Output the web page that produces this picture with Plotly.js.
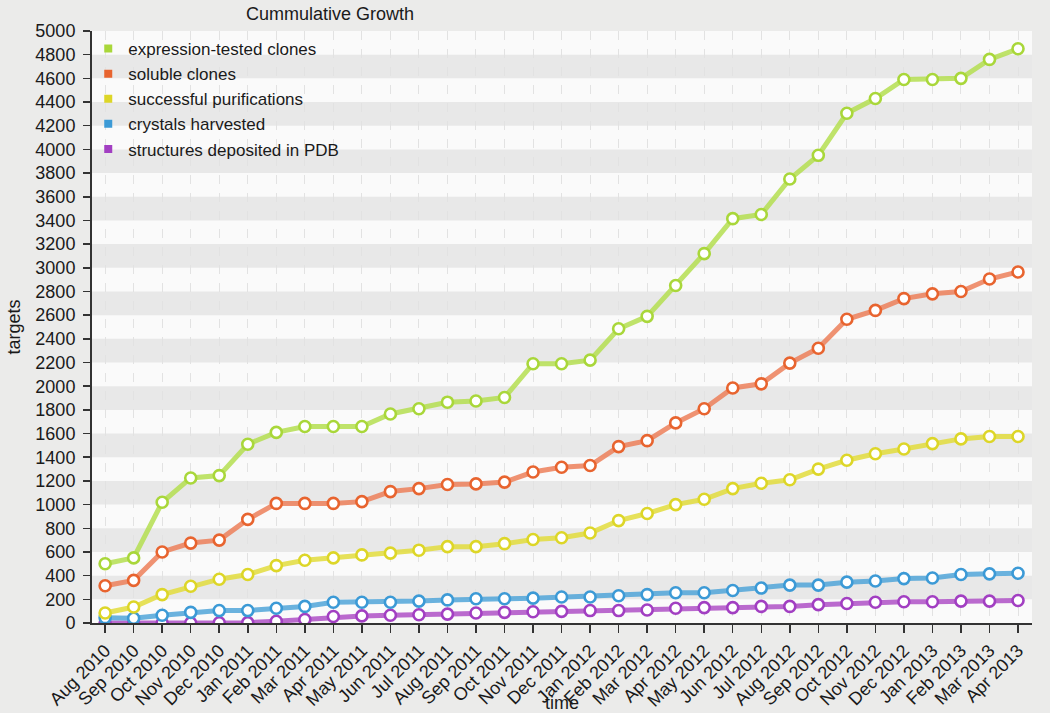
<!DOCTYPE html>
<html>
<head>
<meta charset="utf-8">
<script src="https://cdn.plot.ly/plotly-3.0.1.min.js"></script>
<style>
  html, body { margin: 0; padding: 0; background: #ebebea; }
  #chart { width: 1050px; height: 713px; }
</style>
</head>
<body>
<div id="chart"></div>
<script>
const months = ['Aug 2010','Sep 2010','Oct 2010','Nov 2010','Dec 2010','Jan 2011','Feb 2011','Mar 2011','Apr 2011','May 2011','Jun 2011','Jul 2011','Aug 2011','Sep 2011','Oct 2011','Nov 2011','Dec 2011','Jan 2012','Feb 2012','Mar 2012','Apr 2012','May 2012','Jun 2012','Jul 2012','Aug 2012','Sep 2012','Oct 2012','Nov 2012','Dec 2012','Jan 2013','Feb 2013','Mar 2013','Apr 2013'];

const expressionTested = [500,550,1020,1225,1245,1510,1610,1660,1660,1660,1765,1810,1865,1875,1905,2190,2190,2220,2485,2590,2850,3120,3415,3450,3750,3950,4305,4430,4590,4590,4600,4760,4850];
const solubleClones = [315,360,600,675,700,875,1010,1010,1010,1025,1110,1135,1170,1175,1190,1275,1315,1330,1490,1540,1690,1810,1985,2020,2195,2320,2565,2640,2740,2780,2800,2905,2965];
const successfulPurifications = [85,135,240,310,370,410,485,530,550,575,590,615,645,645,670,705,720,760,865,925,1000,1045,1135,1180,1210,1300,1375,1430,1470,1515,1555,1575,1575];
const crystalsHarvested = [45,40,65,90,105,105,125,140,175,175,175,185,195,205,205,210,220,220,230,240,255,255,275,295,320,320,345,355,375,380,410,415,420];
const structuresPDB = [0,0,0,0,2,3,15,30,55,60,65,70,75,85,90,95,98,105,105,110,125,130,130,140,140,155,165,175,180,180,185,185,190];

const seriesNames = ['expression-tested clones','soluble clones','successful purifications','crystals harvested','structures deposited in PDB'];
const seriesValues = [expressionTested, solubleClones, successfulPurifications, crystalsHarvested, structuresPDB];
const markerColors = ['#a9d73a','#e8642f','#ddd628','#3c9ad6','#a23fc2'];
const lineColors = ['rgba(180,222,80,0.85)','rgba(236,120,80,0.8)','rgba(226,220,60,0.85)','rgba(70,160,215,0.8)','rgba(170,70,195,0.8)'];

const yMax = 5000, yStep = 200;

const traces = [];
for (let i = seriesNames.length - 1; i >= 0; i--) {
  traces.push({
    x: months, y: seriesValues[i], type: 'scatter', mode: 'lines+markers',
    name: seriesNames[i], showlegend: false,
    line: { color: lineColors[i], width: 5 },
    marker: { symbol: 'circle', size: 11, color: '#ffffff', line: { color: markerColors[i], width: 2.6 } },
    hoverinfo: 'x+y+name'
  });
}
for (let i = 0; i < seriesNames.length; i++) {
  traces.push({
    x: [null], y: [null], type: 'scatter', mode: 'markers', name: seriesNames[i],
    marker: { symbol: 'square', size: 8, color: markerColors[i] }
  });
}

const shapes = [];
for (let v = yStep; v < yMax; v += 2 * yStep) {
  shapes.push({
    type: 'rect', xref: 'paper', yref: 'y', x0: 0, x1: 1, y0: v, y1: v + yStep,
    fillcolor: '#e8e8e8', line: { width: 0 }, layer: 'below'
  });
}

const layout = {
  width: 1050, height: 713,
  paper_bgcolor: '#ebebea', plot_bgcolor: '#fafafa',
  margin: { l: 92, r: 18, t: 31, b: 90 },
  font: { family: 'Liberation Sans, Arial, sans-serif', color: '#1a1a1a', size: 18 },
  title: {
    text: 'Cummulative Growth', font: { size: 18, color: '#1a1a1a' },
    x: 330 / 1050, xref: 'container', xanchor: 'center',
    y: 1 - 14 / 713, yref: 'container', yanchor: 'middle'
  },
  xaxis: {
    type: 'category', range: [-0.46, 32.49], tickangle: -45,
    ticks: 'outside', ticklen: 8, tickwidth: 1.5, tickcolor: '#333',
    showline: true, linecolor: '#333', linewidth: 2,
    showgrid: true, gridcolor: '#e2e2e2', griddash: 'dash', gridwidth: 1,
    tickfont: { size: 18 }, automargin: false,
    title: { text: 'time', font: { size: 18 }, standoff: 0 },
    fixedrange: true
  },
  yaxis: {
    range: [0, yMax], dtick: yStep, tick0: 0,
    ticks: 'outside', ticklen: 7, tickwidth: 1.5, tickcolor: '#333',
    showline: true, linecolor: '#333', linewidth: 2,
    showgrid: false, zeroline: false,
    tickfont: { size: 18 }, ticklabelstandoff: 4, automargin: false,
    title: { text: 'targets', font: { size: 18 }, standoff: 10 },
    fixedrange: true
  },
  legend: {
    x: -0.004, y: 1.0, xanchor: 'left', yanchor: 'top',
    bgcolor: 'rgba(0,0,0,0)', borderwidth: 0,
    font: { size: 17, color: '#1a1a1a' }, itemwidth: 30, tracegroupgap: 0
  },
  shapes: shapes,
  showlegend: true
};

Plotly.newPlot('chart', traces, layout, { displayModeBar: false, staticPlot: true });
</script>
</body>
</html>
